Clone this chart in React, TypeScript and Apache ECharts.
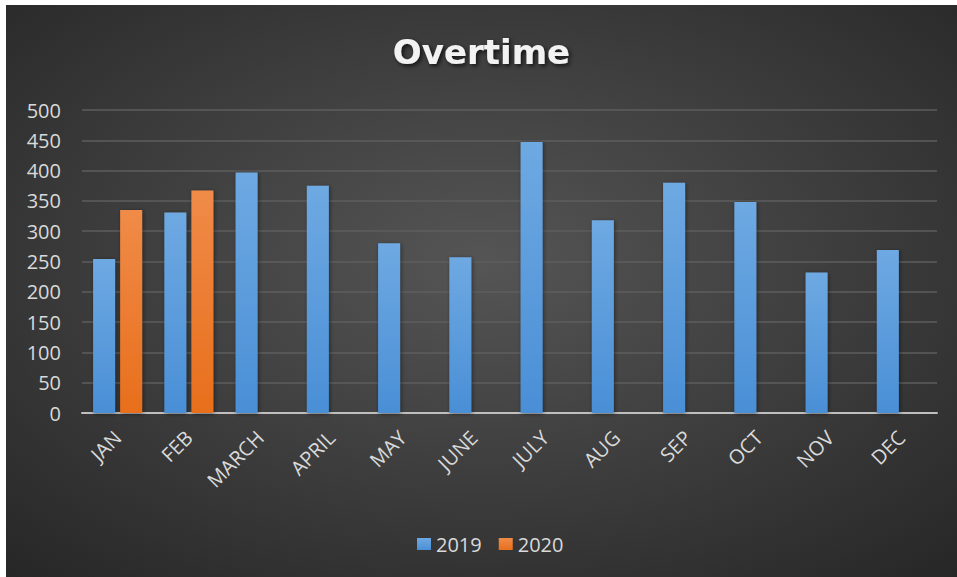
import React, { useEffect, useRef } from "react";
import * as echarts from "echarts";

const months = ["JAN", "FEB", "MARCH", "APRIL", "MAY", "JUNE", "JULY", "AUG", "SEP", "OCT", "NOV", "DEC"];
const values2019 = [254, 331, 397, 375, 280, 257, 447, 318, 380, 348, 232, 269];
const values2020: (number | null)[] = [335, 367, null, null, null, null, null, null, null, null, null, null];
const seriesNames = ["2019", "2020"];
const titleText = "Overtime";

export default function App() {
  const ref = useRef<HTMLDivElement>(null);
  useEffect(() => {
    if (!ref.current) return;
    const chart = echarts.init(ref.current, undefined, { renderer: "svg" });
    const font = "'Open Sans', 'Noto Sans', sans-serif";
    chart.setOption({
      animation: false,
      backgroundColor: new echarts.graphic.RadialGradient(0.5, 0.45, 0.75, [
        { offset: 0, color: "#555555" },
        { offset: 1, color: "#262626" },
      ]),
      title: {
        text: titleText,
        left: "center",
        top: 30,
        padding: [0, 0, 0, 10],
        textStyle: {
          fontFamily: "'DejaVu Sans', sans-serif",
          fontWeight: "bold",
          fontSize: 34,
          color: "#f2f2f2",
          textShadowColor: "rgba(0,0,0,0.7)",
          textShadowBlur: 4,
          textShadowOffsetX: 2,
          textShadowOffsetY: 2,
        },
      },
      legend: {
        data: seriesNames,
        left: 406,
        top: 524,
        itemWidth: 14,
        itemHeight: 12,
        itemGap: 17,
        icon: "rect",
        textStyle: { color: "#d9d9d9", fontSize: 20, fontFamily: font },
      },
      grid: { left: 76, right: 20, top: 105, bottom: 164, containLabel: false },
      xAxis: {
        type: "category",
        data: months,
        axisTick: { show: false },
        axisLine: { lineStyle: { color: "#bfbfbf", width: 2 } },
        axisLabel: { rotate: 45, color: "#d9d9d9", fontSize: 20, fontFamily: font, margin: 21, interval: 0 },
      },
      yAxis: {
        type: "value",
        min: 0,
        max: 500,
        interval: 50,
        axisLine: { show: false },
        axisTick: { show: false },
        axisLabel: { color: "#d9d9d9", fontSize: 20, fontFamily: font, margin: 21 },
        splitLine: { lineStyle: { color: "#5e5e5e", width: 1.5 } },
      },
      series: [
        {
          name: seriesNames[0],
          type: "bar",
          data: values2019,
          barWidth: 22,
          barGap: "23%",
          itemStyle: {
            color: new echarts.graphic.LinearGradient(0, 0, 0, 1, [
              { offset: 0, color: "#6ea9e2" },
              { offset: 1, color: "#4a8fd6" },
            ]),
            shadowColor: "rgba(0,0,0,0.45)",
            shadowBlur: 4,
            shadowOffsetX: 1,
            shadowOffsetY: 1,
          },
        },
        {
          name: seriesNames[1],
          type: "bar",
          data: values2020,
          barWidth: 22,
          barGap: "23%",
          itemStyle: {
            color: new echarts.graphic.LinearGradient(0, 0, 0, 1, [
              { offset: 0, color: "#f08b48" },
              { offset: 1, color: "#e86f1c" },
            ]),
            shadowColor: "rgba(0,0,0,0.45)",
            shadowBlur: 4,
            shadowOffsetX: 1,
            shadowOffsetY: 1,
          },
        },
      ],
    });
    return () => chart.dispose();
  }, []);
  return (
    <div style={{ position: "fixed", left: 0, top: 0, width: 957, height: 577, background: "#ffffff" }}>
      <div ref={ref} style={{ position: "absolute", left: 6, top: 5, width: 951, height: 572 }} />
    </div>
  );
}
